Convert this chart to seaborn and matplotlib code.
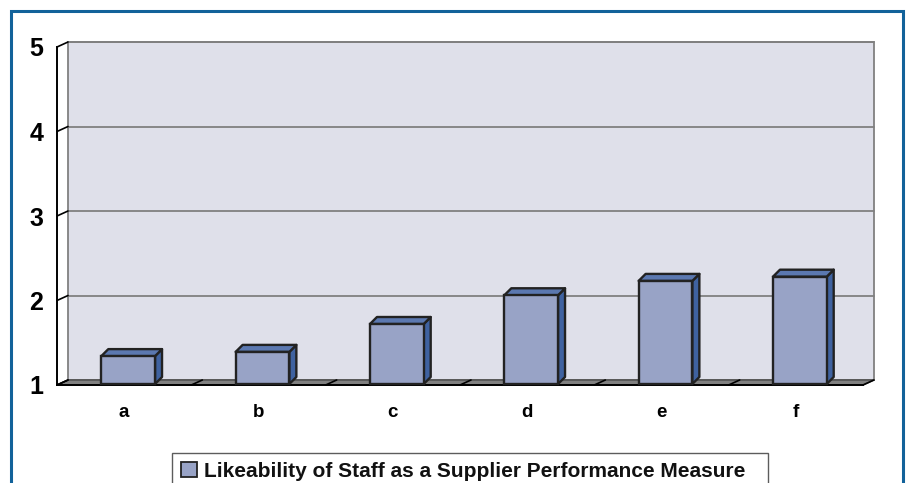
import matplotlib
matplotlib.use("Agg")
import matplotlib.pyplot as plt
import seaborn as sns
import numpy as np
from matplotlib.patches import Polygon, Rectangle, Patch
from matplotlib.lines import Line2D
from matplotlib.transforms import Affine2D

categories = ["a", "b", "c", "d", "e", "f"]
values = [1.33, 1.38, 1.71, 2.05, 2.22, 2.27]
yticks = [1, 2, 3, 4, 5]
series_label = "Likeability of Staff as a Supplier Performance Measure"

FRONT = "#98a3c6"
SIDE = "#3f62a0"
TOP = "#5b78b0"
EDGE = "#222222"
WALL = "#dfe0ea"
FLOOR = "#808080"
GRID = "#808080"
BORDER = "#12629a"

sns.set_style("white")
plt.rcParams["font.family"] = ["Liberation Sans", "DejaVu Sans"]
plt.rcParams["text.color"] = "black"
plt.rcParams["xtick.color"] = "black"
plt.rcParams["ytick.color"] = "black"

W, H = 908, 483
fig = plt.figure(figsize=(W / 100, H / 100), dpi=100)
fig.patch.set_facecolor("white")

# outer border
fig.patches.append(Rectangle((11 / W, -0.1), (903 - 11) / W, 1 - 11 / H + 0.1,
                             transform=fig.transFigure, fill=False,
                             edgecolor=BORDER, linewidth=2.2, zorder=0))

ax = fig.add_axes([57 / W, 1 - 385 / H, (863 - 57) / W, (385 - 47) / H])
ax.set_facecolor("none")

sns.barplot(x=categories, y=values, color=FRONT, width=0.4, saturation=1,
            edgecolor=EDGE, linewidth=1.7, ax=ax, zorder=3)

ax.set_xlim(-0.5, len(categories) - 0.5)
ax.set_ylim(1, 5)

DX, DY = 11, 5      # wall depth offset (px)
BDX, BDY = 7, 7     # bar depth (px)
SHX, SHY = 4, 1     # bar shift (px)

shift = Affine2D().translate(SHX, SHY)
back = ax.transData + Affine2D().translate(DX, DY)

x0, x1 = ax.get_xlim()
# back wall
ax.add_patch(Polygon([(x0, 1), (x1, 1), (x1, 5), (x0, 5)], closed=True,
                     transform=back, facecolor=WALL, edgecolor=GRID,
                     linewidth=1.3, clip_on=False, zorder=0.5))
# gridlines on wall and slants on side wall
for yv in yticks:
    ax.add_line(Line2D([x0, x1], [yv, yv], transform=back, color=GRID,
                       linewidth=1.3, clip_on=False, zorder=0.6))
    p0 = ax.transData.transform((x0, yv))
    ax.add_line(Line2D([p0[0], p0[0] + DX], [p0[1], p0[1] + DY],
                       transform=None, color="black",
                       linewidth=1.2, clip_on=False, zorder=0.9))
# floor
fa = ax.transData.transform((x0, 1))
fb = ax.transData.transform((x1, 1))
ax.add_patch(Polygon([fa, fb, (fb[0] + DX, fb[1] + DY), (fa[0] + DX, fa[1] + DY)],
                     closed=True, transform=None, facecolor=FLOOR,
                     edgecolor="#4a4a4a", linewidth=1.0, clip_on=False, zorder=0.7))
# tick slants on floor
for xb in np.arange(x0, x1 + 0.01, 1.0):
    p = ax.transData.transform((xb, 1))
    ax.add_line(Line2D([p[0], p[0] + DX], [p[1], p[1] + DY], transform=None,
                       color="black", linewidth=1.2, clip_on=False, zorder=0.8))

# 3D bars
bars = [p for p in ax.patches if isinstance(p, Rectangle)]
for p, v in zip(bars, values):
    p.set_y(1)
    p.set_height(v - 1)
    p.set_transform(ax.transData + shift)
    p.set_clip_on(False)
    bx0 = p.get_x()
    bx1 = bx0 + p.get_width()
    a = ax.transData.transform((bx0, v)) + (SHX, SHY)
    b = ax.transData.transform((bx1, v)) + (SHX, SHY)
    c = ax.transData.transform((bx1, 1)) + (SHX, SHY)
    side = [b, c, (c[0] + BDX, c[1] + BDY), (b[0] + BDX, b[1] + BDY)]
    top = [a, b, (b[0] + BDX, b[1] + BDY), (a[0] + BDX, a[1] + BDY)]
    ax.add_patch(Polygon(side, closed=True, transform=None, facecolor=SIDE,
                         edgecolor=EDGE, linewidth=1.7, joinstyle="round",
                         clip_on=False, zorder=2.9))
    ax.add_patch(Polygon(top, closed=True, transform=None, facecolor=TOP,
                         edgecolor=EDGE, linewidth=1.7, joinstyle="round",
                         clip_on=False, zorder=2.9))

for s in ["top", "right"]:
    ax.spines[s].set_visible(False)
for s in ["left", "bottom"]:
    ax.spines[s].set_color("black")
    ax.spines[s].set_linewidth(1.4)
    ax.spines[s].set_zorder(2.5)

ax.set_yticks(yticks)
ax.set_yticklabels([str(t) for t in yticks], fontsize=18, fontweight="bold", color="black")
ax.tick_params(axis="y", direction="out", length=3, width=1.2, pad=7, color="black")
ax.set_xticks(range(len(categories)))
ax.set_xticklabels(categories, fontsize=13.5, fontweight="bold", color="black")
ax.set_xticks(np.arange(x0, x1 + 0.01, 1.0), minor=True)
ax.tick_params(axis="x", which="major", length=0, pad=14)
ax.tick_params(axis="x", which="minor", direction="out", length=4, width=1.2, color="black")
ax.set_xlabel("")
ax.set_ylabel("")
ax.grid(False)

handle = Patch(facecolor=FRONT, edgecolor=EDGE, linewidth=1.3)
leg = fig.legend([handle], [series_label], loc="upper left",
                 bbox_to_anchor=(172 / W, 1 - 453 / H, (768 - 172) / W, 0.001),
                 mode="expand", frameon=True, fancybox=False,
                 prop={"family": ["Liberation Sans", "DejaVu Sans"], "weight": "bold", "size": 15},
                 handlelength=0.75, handleheight=0.75, handletextpad=0.35,
                 borderpad=0.45, borderaxespad=0)
leg.get_frame().set_edgecolor("#333333")
leg.get_frame().set_linewidth(1.0)
for t in leg.get_texts():
    t.set_color("#111111")

fig.savefig("out.png", dpi=100)
